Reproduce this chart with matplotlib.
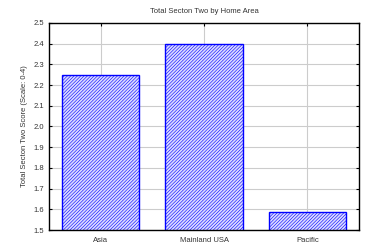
import matplotlib
matplotlib.use('Agg')
import matplotlib.pyplot as plt

areas = ['Asia', 'Mainland USA', 'Pacific']
scores = [2.25, 2.40, 1.585]
yticks = [1.5, 1.6, 1.7, 1.8, 1.9, 2.0, 2.1, 2.2, 2.3, 2.4, 2.5]

plt.rcParams['font.family'] = ['Liberation Sans', 'DejaVu Sans']
plt.rcParams['hatch.color'] = '#b4b4ff'
plt.rcParams['hatch.linewidth'] = 0.4

fig = plt.figure(figsize=(3.66, 2.45), dpi=100)
ax = fig.add_axes([49/366, 1 - 230/245, 310/366, 207/245])

ax.bar(range(len(areas)), scores, width=0.75, bottom=0,
       facecolor='#dadaff', edgecolor='#0000ff', linewidth=1.0,
       hatch='//////////', zorder=2)

ax.set_xlim(-0.5, 2.5)
ax.set_ylim(1.5, 2.5)
ax.set_yticks(yticks)
ax.set_yticklabels(['%.1f' % v for v in yticks])
ax.set_xticks(range(len(areas)))
ax.set_xticklabels(areas)

ax.grid(True, color='#cccccc', linewidth=0.8, zorder=0)
ax.set_axisbelow(True)
ax.tick_params(direction='in', length=2.5, width=0.8, labelsize=5.5,
               top=True, right=True, colors='black', labelcolor='#333333')
ax.tick_params(axis='x', pad=5)
for s in ax.spines.values():
    s.set_linewidth(1.0)

ax.set_title('Total Secton Two by Home Area', fontsize=5.5, color='#333333', pad=7)
ax.set_ylabel('Total Secton Two Score (Scale: 0-4)', fontsize=5.5, color='#333333', labelpad=4)

fig.savefig('out.png', dpi=100)
